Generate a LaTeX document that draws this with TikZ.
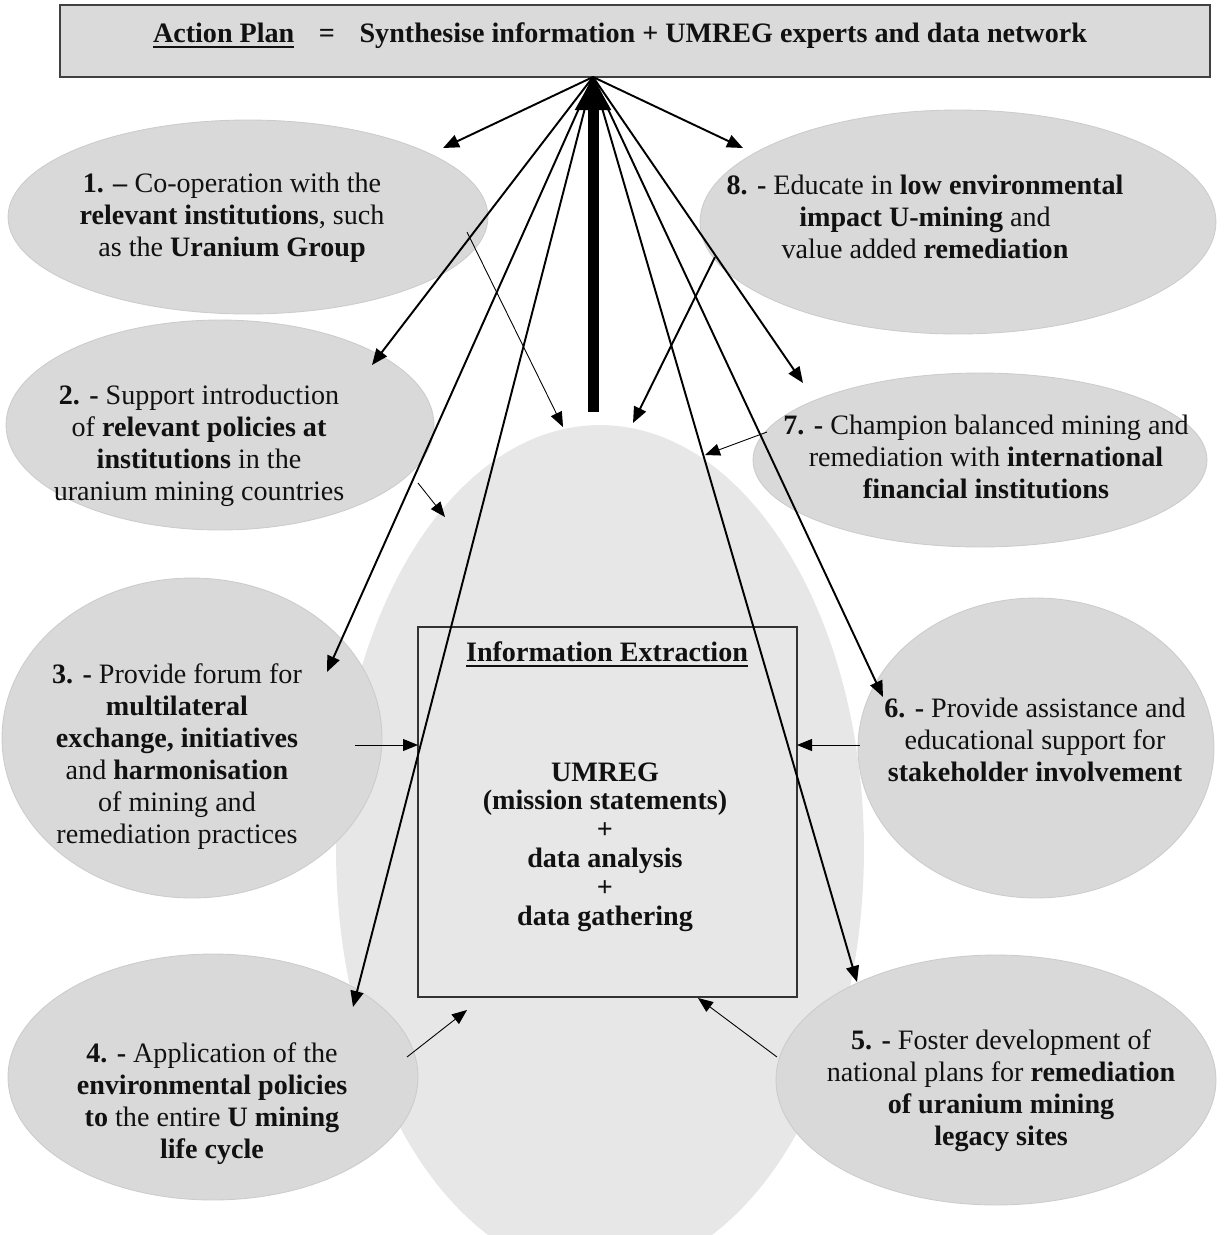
\documentclass[tikz,border=0pt]{standalone}
\usepackage{fontspec}
\setmainfont{Liberation Serif}
\usetikzlibrary{arrows.meta, shapes.geometric}
\definecolor{ovalfill}{HTML}{D9D9D9}
\definecolor{ovalborder}{HTML}{CCCCCC}
\definecolor{corefill}{HTML}{E7E7E7}
\definecolor{headfill}{HTML}{DADADA}
\definecolor{inkcolor}{HTML}{111111}
\newsavebox{\ulsave}
\newcommand{\thickul}[2][1.4pt]{\sbox{\ulsave}{#2}\rlap{\rule[-3.2pt]{\wd\ulsave}{#1}}\usebox{\ulsave}}

\begin{document}
\begin{tikzpicture}[
    x=0.02cm, y=-0.02cm,
    >=Triangle,
    oval/.style={ellipse, fill=ovalfill, draw=ovalborder, line width=0.5pt, inner sep=0pt},
    core/.style={ellipse, fill=corefill, inner sep=0pt},
    headbox/.style={draw=black!75, fill=headfill, line width=1.3pt, inner sep=0pt},
    infobox/.style={draw=black!80, line width=0.9pt, inner sep=0pt},
    ovaltext/.style={align=center, inner sep=0pt, text=inkcolor,
        font=\fontsize{16}{18.2}\selectfont},
    arr/.style={-{Triangle[length=0.32cm, width=0.26cm]}, line width=1.1pt},
    thinarr/.style={-{Triangle[length=0.3cm, width=0.24cm]}, line width=0.5pt},
    bigarr/.style={-{Triangle[length=0.66cm, width=0.68cm]}, line width=0.22cm},
]
\useasboundingbox (0,0) rectangle (1225,1235);

% --- Central oval (behind everything) ---
\node[core, minimum width=10.56cm, minimum height=17cm] (coreoval) at (600,850) {};

% --- Outer ovals ---
\node[oval, minimum width=9.6cm,  minimum height=3.88cm] (e1) at (248,217) {};
\node[oval, minimum width=8.56cm, minimum height=4.2cm]  (e2) at (220,425) {};
\node[oval, minimum width=7.6cm,  minimum height=6.4cm]  (e3) at (192,738) {};
\node[oval, minimum width=8.2cm,  minimum height=4.92cm] (e4) at (213,1077) {};
\node[oval, minimum width=8.8cm,  minimum height=5cm]    (e5) at (996,1080) {};
\node[oval, minimum width=7.12cm, minimum height=6cm]    (e6) at (1036,748) {};
\node[oval, minimum width=9.08cm, minimum height=3.48cm] (e7) at (980,460) {};
\node[oval, minimum width=10.32cm, minimum height=4.48cm] (e8) at (958,222) {};

% --- Action plan header ---
\node[headbox, minimum width=23cm, minimum height=1.44cm] (plan) at (635,41) {};
\node[ovaltext, font=\fontsize{16}{18.2}\selectfont\bfseries] (plantext) at (620,36)
    {\thickul[1.6pt]{Action Plan}\hspace{14pt}=\hspace{14pt}Synthesise information + UMREG experts and data network};

% --- Information extraction box ---
\node[infobox, minimum width=7.58cm, minimum height=7.4cm] (info) at (607.5,812) {};
\node[ovaltext, font=\fontsize{16}{18.2}\selectfont\bfseries] (infotitle) at (607,654)
    {\thickul[1.1pt]{Information Extraction}};
\node[ovaltext, font=\fontsize{16}{16.4}\selectfont\bfseries] (infobody) at (605,847)
    {UMREG\\(mission statements)\\+\\data analysis\\+\\data gathering};

% --- Oval texts ---
\node[ovaltext] (t1) at (232,218)
    {\textbf{1. --} Co-operation with the\\\textbf{relevant institutions}, such\\as the \textbf{Uranium Group}};
\node[ovaltext] (t2) at (199,446)
    {\textbf{2. -} Support introduction\\of \textbf{relevant policies at}\\\textbf{institutions} in the\\uranium mining countries};
\node[ovaltext] (t3) at (177,757)
    {\textbf{3. -} Provide forum for\\\textbf{multilateral}\\\textbf{exchange, initiatives}\\and \textbf{harmonisation}\\of mining and\\remediation practices};
\node[ovaltext] (t4) at (212,1104)
    {\textbf{4. -} Application of the\\\textbf{environmental policies}\\\textbf{to} the entire \textbf{U mining}\\\textbf{life cycle}};
\node[ovaltext] (t5) at (1001,1091)
    {\textbf{5. -} Foster development of\\national plans for \textbf{remediation}\\\textbf{of uranium mining}\\\textbf{legacy sites}};
\node[ovaltext] (t6) at (1035,740)
    {\textbf{6. -} Provide assistance and\\educational support for\\\textbf{stakeholder involvement}};
\node[ovaltext] (t7) at (986,457)
    {\textbf{7. -} Champion balanced mining and\\remediation with \textbf{international}\\\textbf{financial institutions}};
\node[ovaltext] (t8) at (925,217)
    {\textbf{8. -} Educate in \textbf{low environmental}\\\textbf{impact U-mining} and\\value added \textbf{remediation}};

% --- Hub and fan of arrows to the ovals ---
\coordinate (hub) at (593,77);
\foreach \k/\x/\y in {1/443/148, 8/743/148, 2/372/365, 3/327/672,
                      4/353/1007, 5/857/982, 6/883/697, 7/803/383} {
    \coordinate (tip\k) at (\x,\y);
    \draw[arr] (hub) -- (tip\k);
}

% Thick arrow from the core up to the header
\coordinate (corebase) at (593,412);
\draw[bigarr] (corebase) -- (hub);

% --- Feedback arrows from the ovals into the core ---
\foreach \k/\ax/\ay/\bx/\by in {1/467/232/563/427, 2/418/483/445/517,
        7/767/432/705/455, 3/355/745/418/745, 6/860/745/797/745,
        4/407/1057/467/1010, 5/777/1057/698/998} {
    \coordinate (src\k) at (\ax,\ay);
    \coordinate (dst\k) at (\bx,\by);
    \draw[thinarr] (src\k) -- (dst\k);
}
\coordinate (src8) at (715,257);
\coordinate (dst8) at (633,423);
\draw[arr] (src8) -- (dst8);

\end{tikzpicture}
\end{document}
